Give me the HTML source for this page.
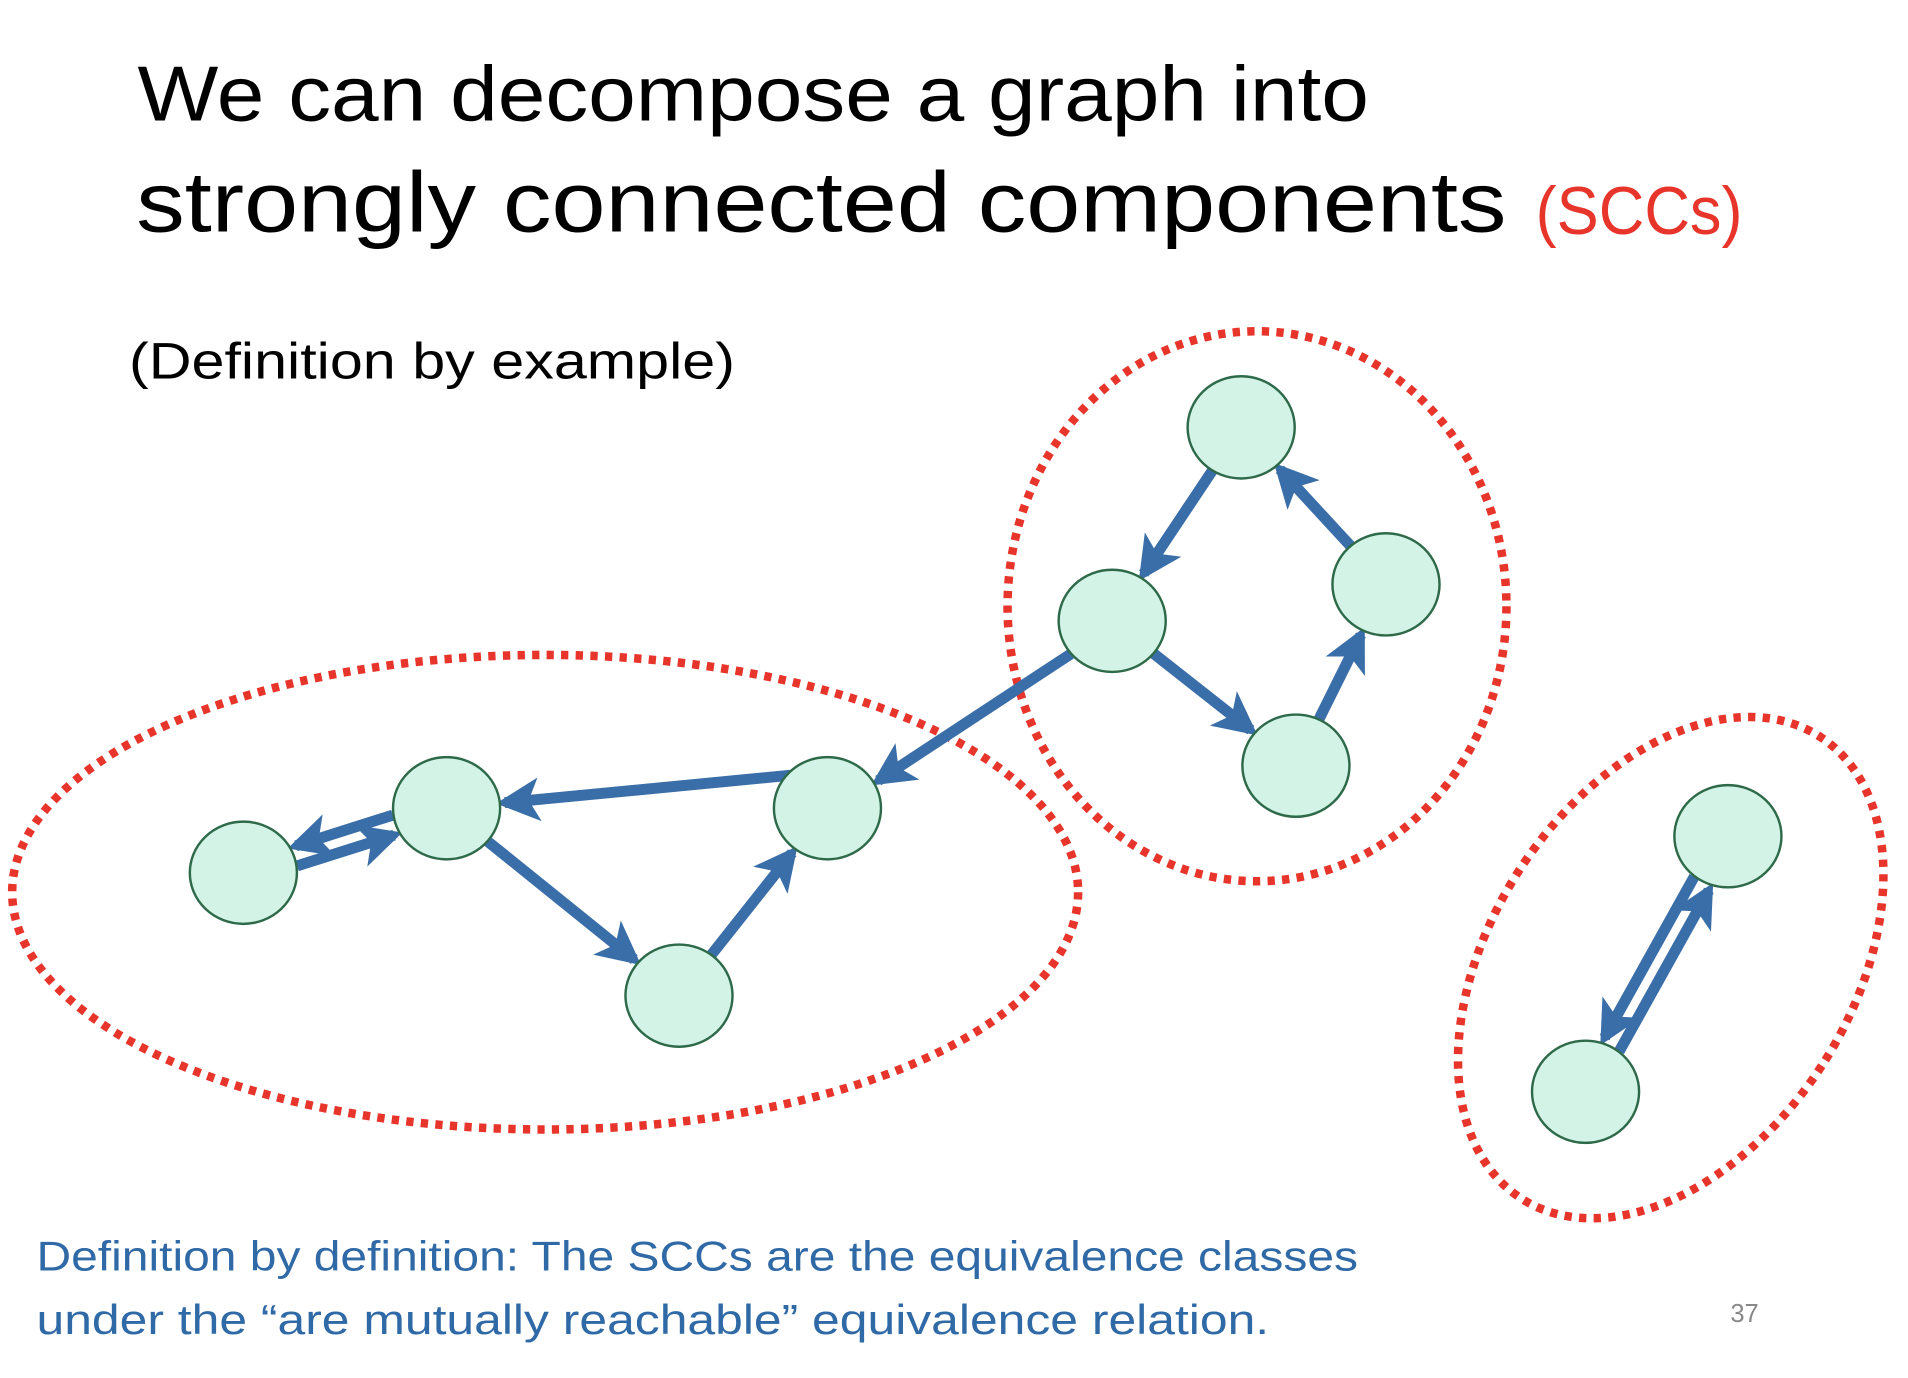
<!DOCTYPE html>
<html><head><meta charset="utf-8"><style>
html,body{margin:0;padding:0;background:#fff;}
svg{display:block;}
text{font-family:"Liberation Sans","DejaVu Sans",sans-serif;}
</style></head><body>
<svg id="s" width="1908" height="1378" viewBox="0 0 1568 1132">
<defs>
<marker id="ah" markerWidth="4" markerHeight="4" refX="3.2" refY="2" orient="auto" markerUnits="strokeWidth">
<path d="M0,0 L4,2 L0,4 L1,2 Z" fill="#3a6ea8"/>
</marker>
</defs>
<text x="113" y="99" font-size="64" fill="#000" textLength="1012" lengthAdjust="spacingAndGlyphs">We can decompose a graph into</text>
<text x="112" y="190" font-size="70" fill="#000" textLength="1126" lengthAdjust="spacingAndGlyphs">strongly connected components</text>
<text x="1262" y="192" font-size="56" fill="#e8352b" textLength="170" lengthAdjust="spacingAndGlyphs">(SCCs)</text>
<text x="106" y="311" font-size="42" fill="#000" textLength="498" lengthAdjust="spacingAndGlyphs">(Definition by example)</text>
<g id="hulls"></g>
<g id="edges"></g>
<g id="nodes"></g>
<text x="30" y="1044" font-size="34" fill="#2f69a6" textLength="1086" lengthAdjust="spacingAndGlyphs">Definition by definition: The SCCs are the equivalence classes</text>
<text x="30" y="1096" font-size="34" fill="#2f69a6" textLength="1013" lengthAdjust="spacingAndGlyphs">under the “are mutually reachable” equivalence relation.</text>
<text x="1422" y="1086" font-size="21" fill="#888">37</text>
</svg>
<script>
const nodeNames=['a','b','c','d','e','f','g','h','i','j'];
const nodeX=[200,367,680,558,914,1020,1139,1065,1420,1303];
const nodeY=[717,664,664,818,510,351,480,629,687,897];
const edgeFrom=[1,0,2,1,3,4,5,6,4,7,8,9];
const edgeTo=[0,1,1,3,2,2,4,5,7,6,9,8];
const edgeOffset=[8,8,0,0,0,-4,0,0,0,0,8,8];
const edgeStartShiftY=[0,0,-30,0,0,0,0,0,0,0,0,0];
const hullCx=[448,1033,1373];
const hullCy=[733,498,795];
const hullRx=[438,205,148];
const hullRy=[195,226,226];
const hullRot=[0,0,33];
const NS='http://www.w3.org/2000/svg';
const RX=44,RY=42;
const hg=document.getElementById('hulls');
for(let k=0;k<hullCx.length;k++){
  const e=document.createElementNS(NS,'ellipse');
  e.setAttribute('cx',hullCx[k]);e.setAttribute('cy',hullCy[k]);
  e.setAttribute('rx',hullRx[k]);e.setAttribute('ry',hullRy[k]);
  e.setAttribute('transform','rotate('+hullRot[k]+' '+hullCx[k]+' '+hullCy[k]+')');
  e.setAttribute('fill','none');e.setAttribute('stroke','#e8352b');
  e.setAttribute('stroke-width','7');e.setAttribute('stroke-dasharray','6 6');
  
  
  hg.appendChild(e);
}
const eg=document.getElementById('edges');
for(let k=0;k<edgeFrom.length;k++){
  const a=edgeFrom[k],b=edgeTo[k];
  let x1=nodeX[a],y1=nodeY[a]+edgeStartShiftY[k],x2=nodeX[b],y2=nodeY[b];
  const dx=x2-x1,dy=y2-y1,L=Math.hypot(dx,dy),ux=dx/L,uy=dy/L;
  const px=-uy*edgeOffset[k],py=ux*edgeOffset[k];
  const t1=1/Math.hypot(ux/RX,uy/RY);
  const t0=edgeStartShiftY[k]?t1-14:t1;
  const l=document.createElementNS(NS,'line');
  l.setAttribute('x1',x1+ux*t0+px);l.setAttribute('y1',y1+uy*t0+py);
  l.setAttribute('x2',x2-ux*(t1+4)+px);l.setAttribute('y2',y2-uy*(t1+4)+py);
  l.setAttribute('stroke','#3a6ea8');l.setAttribute('stroke-width','9');
  l.setAttribute('marker-end','url(#ah)');
  
  
  eg.appendChild(l);
}
const ng=document.getElementById('nodes');
for(let k=0;k<nodeX.length;k++){
  const c=document.createElementNS(NS,'ellipse');
  c.setAttribute('cx',nodeX[k]);c.setAttribute('cy',nodeY[k]);
  c.setAttribute('rx',RX);c.setAttribute('ry',RY);
  c.setAttribute('fill','#d2f3e6');c.setAttribute('stroke','#2e6a4a');c.setAttribute('stroke-width','2');
  
  
  ng.appendChild(c);
}
</script>
</body></html>
